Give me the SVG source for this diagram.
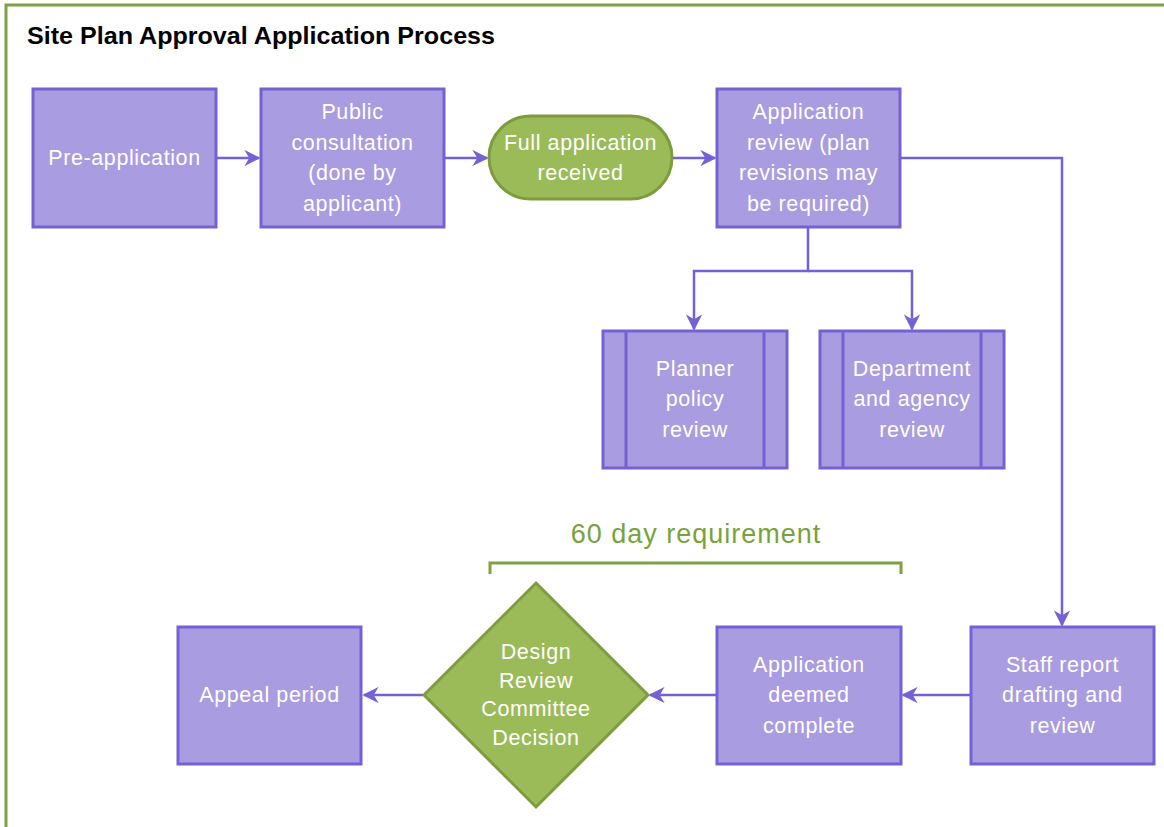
<svg xmlns="http://www.w3.org/2000/svg" width="1164" height="827" viewBox="0 0 1164 827">
<defs>
<style>
.box{fill:#a99ce0;stroke:#7661d4;stroke-width:3}
.grn{fill:#9bbb59;stroke:#7d9c3e;stroke-width:3}
.lbl{font-family:"Liberation Sans",Arial,sans-serif;font-size:21.5px;letter-spacing:0.6px;fill:#ffffff;text-anchor:middle}
.con{fill:none;stroke:#7661d4;stroke-width:2.5}
</style>
<marker id="ah" viewBox="0 0 10 10" refX="9" refY="5" markerWidth="6.5" markerHeight="6.5" orient="auto" markerUnits="strokeWidth">
<path d="M0,0 L10,5 L0,10 L3,5 z" fill="#7661d4"/>
</marker>
</defs>
<rect width="1164" height="827" fill="#ffffff"/>
<path d="M6,827 V5 H1164" fill="none" stroke="#80a046" stroke-width="3"/>
<text x="27" y="44" font-family="Liberation Sans,Arial,sans-serif" font-weight="bold" font-size="24" fill="#000" textLength="468" lengthAdjust="spacingAndGlyphs">Site Plan Approval Application Process</text>

<g id="connectors">
<line class="con" x1="216" y1="158" x2="259" y2="158" marker-end="url(#ah)"/>
<line class="con" x1="444" y1="158" x2="487" y2="158" marker-end="url(#ah)"/>
<line class="con" x1="672" y1="158" x2="715" y2="158" marker-end="url(#ah)"/>
<path class="con" d="M808,227 V271 H694 V329" marker-end="url(#ah)"/>
<path class="con" d="M808,271 H912 V329" marker-end="url(#ah)"/>
<path class="con" d="M900,158 H1062 V625" marker-end="url(#ah)"/>
<line class="con" x1="970" y1="695" x2="903" y2="695" marker-end="url(#ah)"/>
<line class="con" x1="717" y1="695" x2="650" y2="695" marker-end="url(#ah)"/>
<line class="con" x1="423" y1="695" x2="364" y2="695" marker-end="url(#ah)"/>
</g>

<g id="n-preapp">
<rect class="box" x="33" y="89" width="183" height="138"/>
<text class="lbl" x="124.5" y="165">Pre-application</text>
</g>
<g id="n-public">
<rect class="box" x="261" y="89" width="183" height="138"/>
<text class="lbl" x="352.5" y="119">Public</text>
<text class="lbl" x="352.5" y="150">consultation</text>
<text class="lbl" x="352.5" y="180">(done by</text>
<text class="lbl" x="352.5" y="211">applicant)</text>
</g>
<g id="n-full">
<rect class="grn" x="489" y="116" width="183" height="83" rx="41.5"/>
<text class="lbl" x="580.5" y="150">Full application</text>
<text class="lbl" x="580.5" y="180">received</text>
</g>
<g id="n-review">
<rect class="box" x="717" y="89" width="183" height="138"/>
<text class="lbl" x="808.5" y="119">Application</text>
<text class="lbl" x="808.5" y="150">review (plan</text>
<text class="lbl" x="808.5" y="180">revisions may</text>
<text class="lbl" x="808.5" y="211">be required)</text>
</g>
<g id="n-planner">
<rect class="box" x="603" y="331" width="184" height="137"/>
<line x1="626" y1="331" x2="626" y2="468" stroke="#7661d4" stroke-width="3"/>
<line x1="764" y1="331" x2="764" y2="468" stroke="#7661d4" stroke-width="3"/>
<text class="lbl" x="695" y="376">Planner</text>
<text class="lbl" x="695" y="406">policy</text>
<text class="lbl" x="695" y="437">review</text>
</g>
<g id="n-dept">
<rect class="box" x="820" y="331" width="184" height="137"/>
<line x1="843" y1="331" x2="843" y2="468" stroke="#7661d4" stroke-width="3"/>
<line x1="981" y1="331" x2="981" y2="468" stroke="#7661d4" stroke-width="3"/>
<text class="lbl" x="912" y="376">Department</text>
<text class="lbl" x="912" y="406">and agency</text>
<text class="lbl" x="912" y="437">review</text>
</g>
<g id="n-staff">
<rect class="box" x="971" y="627" width="183" height="137"/>
<text class="lbl" x="1062.5" y="672">Staff report</text>
<text class="lbl" x="1062.5" y="702">drafting and</text>
<text class="lbl" x="1062.5" y="733">review</text>
</g>
<g id="n-deemed">
<rect class="box" x="717" y="627" width="184" height="137"/>
<text class="lbl" x="809" y="672">Application</text>
<text class="lbl" x="809" y="702">deemed</text>
<text class="lbl" x="809" y="733">complete</text>
</g>
<g id="n-decision">
<polygon class="grn" points="536,583 648,695 536,807 424,695"/>
<text class="lbl" x="536" y="659" font-size="20" letter-spacing="0">Design</text>
<text class="lbl" x="536" y="688" font-size="20" letter-spacing="0">Review</text>
<text class="lbl" x="536" y="716" font-size="20" letter-spacing="0">Committee</text>
<text class="lbl" x="536" y="745" font-size="20" letter-spacing="0">Decision</text>
</g>
<g id="n-appeal">
<rect class="box" x="178" y="627" width="183" height="137"/>
<text class="lbl" x="269.5" y="702">Appeal period</text>
</g>
<g id="bracket">
<path d="M490,574 V563 H901 V574" fill="none" stroke="#80a046" stroke-width="3"/>
<text x="696" y="543" font-family="Liberation Sans,Arial,sans-serif" font-size="27" letter-spacing="1" fill="#79a23c" text-anchor="middle">60 day requirement</text>
</g>
</svg>
